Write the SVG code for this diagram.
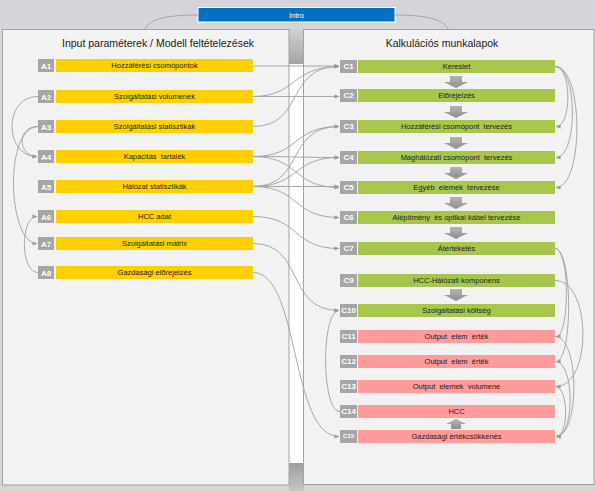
<svg xmlns="http://www.w3.org/2000/svg" width="596" height="491" viewBox="0 0 596 491">
<defs>
<style>
.panel{fill:#f2f2f2;stroke:#a3a3a3;stroke-width:1}
.title{font-family:"Liberation Sans",Arial,sans-serif;font-size:10.5px;fill:#1a1a1a;text-anchor:middle}
.lbl{fill:#a6a6a6}
.lt{font-family:"Liberation Sans",Arial,sans-serif;font-size:8px;font-weight:bold;fill:#ffffff;text-anchor:middle}
.bt{font-family:"Liberation Sans",Arial,sans-serif;font-size:7.5px;fill:#222222;text-anchor:middle;white-space:pre}
.ya{fill:#ffd000}
.gr{fill:#a8c64c}
.pk{fill:#ff9b9b}
.con{fill:none;stroke:#a0a0a0;stroke-width:0.9;marker-end:url(#ah)}
.con0{fill:none;stroke:#a0a0a0;stroke-width:0.9}
.blk{fill:url(#ag)}
</style>
<marker id="ah" viewBox="0 0 6 6" refX="5.5" refY="3" markerWidth="5" markerHeight="5" orient="auto" markerUnits="userSpaceOnUse">
<path d="M0,0.5 L6,3 L0,5.5 z" fill="#9c9c9c"/>
</marker>
<linearGradient id="ag" x1="0" y1="0" x2="0" y2="1">
<stop offset="0" stop-color="#b4b4b4"/>
<stop offset="1" stop-color="#8e8e8e"/>
</linearGradient>
<linearGradient id="topg" x1="0" y1="0" x2="0" y2="1">
<stop offset="0" stop-color="#cfd1d4"/>
<stop offset="1" stop-color="#a4a4a4"/>
</linearGradient>
<linearGradient id="botg" x1="0" y1="0" x2="0" y2="1">
<stop offset="0" stop-color="#9e9e9e"/>
<stop offset="1" stop-color="#c6c6c6"/>
</linearGradient>
<path id="dn" d="M-6,0 H6 V6 H12 L0,12 L-12,6 H-6 Z"/>
</defs>

<g id="background">
<rect x="0" y="0" width="596" height="491" fill="#d3d5d8"/>
<rect x="289" y="29" width="15" height="35" fill="url(#topg)"/>
<rect x="289" y="64" width="15" height="399" fill="#ffffff"/>
<rect x="289" y="463" width="15" height="28" fill="url(#botg)"/>
</g>

<g id="panel-input">
<rect class="panel" x="2.5" y="29.5" width="286.5" height="455.5"/>
<text class="title" x="158" y="47">Input paraméterek / Modell feltételezések</text>
</g>
<g id="panel-calc">
<rect class="panel" x="303.5" y="29.5" width="290.5" height="455"/>
<text class="title" x="442" y="47">Kalkulációs munkalapok</text>
</g>

<g id="intro">
<rect x="198" y="7.5" width="197" height="14.5" fill="#0070c0" stroke="#ffffff" stroke-width="1"/>
<text class="bt" x="296.5" y="17.5" style="fill:#ffffff">Intro</text>
</g>

<g id="A1"><rect class="lbl" x="38" y="59" width="16" height="13"/><text class="lt" x="46" y="68.5">A1</text><rect class="ya" x="56" y="59" width="197" height="13"/><text class="bt" x="154.5" y="68">Hozzáférési csomópontok</text></g>
<g id="A2"><rect class="lbl" x="38" y="90" width="16" height="13"/><text class="lt" x="46" y="99.5">A2</text><rect class="ya" x="56" y="90" width="197" height="13"/><text class="bt" x="154.5" y="99">Szolgáltatási volumenek</text></g>
<g id="A3"><rect class="lbl" x="38" y="120" width="16" height="13"/><text class="lt" x="46" y="129.5">A3</text><rect class="ya" x="56" y="120" width="197" height="13"/><text class="bt" x="154.5" y="129">Szolgáltatási statisztikák</text></g>
<g id="A4"><rect class="lbl" x="38" y="150" width="16" height="13"/><text class="lt" x="46" y="159.5">A4</text><rect class="ya" x="56" y="150" width="197" height="13"/><text class="bt" x="154.5" y="159">Kapacitás  tartalék</text></g>
<g id="A5"><rect class="lbl" x="38" y="180" width="16" height="13"/><text class="lt" x="46" y="189.5">A5</text><rect class="ya" x="56" y="180" width="197" height="13"/><text class="bt" x="154.5" y="189">Hálózat statisztikák</text></g>
<g id="A6"><rect class="lbl" x="38" y="210" width="16" height="13"/><text class="lt" x="46" y="219.5">A6</text><rect class="ya" x="56" y="210" width="197" height="13"/><text class="bt" x="154.5" y="219">HCC adat</text></g>
<g id="A7"><rect class="lbl" x="38" y="237" width="16" height="13"/><text class="lt" x="46" y="246.5">A7</text><rect class="ya" x="56" y="237" width="197" height="13"/><text class="bt" x="154.5" y="246">Szolgáltatási mátrix</text></g>
<g id="A8"><rect class="lbl" x="38" y="266" width="16" height="13"/><text class="lt" x="46" y="275.5">A8</text><rect class="ya" x="56" y="266" width="197" height="13"/><text class="bt" x="154.5" y="275">Gazdasági előrejelzés</text></g>

<g id="C1"><rect class="lbl" x="340" y="60" width="17" height="13"/><text class="lt" x="348.5" y="69">C1</text><rect class="gr" x="358" y="60" width="197" height="13"/><text class="bt" x="456.5" y="69">Kereslet</text></g>
<g id="C2"><rect class="lbl" x="340" y="89" width="17" height="13"/><text class="lt" x="348.5" y="98">C2</text><rect class="gr" x="358" y="89" width="197" height="13"/><text class="bt" x="456.5" y="98">Előrejelzés</text></g>
<g id="C3"><rect class="lbl" x="340" y="120" width="17" height="13"/><text class="lt" x="348.5" y="129">C3</text><rect class="gr" x="358" y="120" width="197" height="13"/><text class="bt" x="456.5" y="129">Hozzáférési csomópont  tervezés</text></g>
<g id="C4"><rect class="lbl" x="340" y="151" width="17" height="13"/><text class="lt" x="348.5" y="160">C4</text><rect class="gr" x="358" y="151" width="197" height="13"/><text class="bt" x="456.5" y="160">Maghálózati csomópont  tervezés</text></g>
<g id="C5"><rect class="lbl" x="340" y="181" width="17" height="13"/><text class="lt" x="348.5" y="190">C5</text><rect class="gr" x="358" y="181" width="197" height="13"/><text class="bt" x="456.5" y="190">Egyéb  elemek  tervezése</text></g>
<g id="C6"><rect class="lbl" x="340" y="211" width="17" height="13"/><text class="lt" x="348.5" y="220">C6</text><rect class="gr" x="358" y="211" width="197" height="13"/><text class="bt" x="456.5" y="220">Alépítmény  és optikai kábel tervezése</text></g>
<g id="C7"><rect class="lbl" x="340" y="242" width="17" height="13"/><text class="lt" x="348.5" y="251">C7</text><rect class="gr" x="358" y="242" width="197" height="13"/><text class="bt" x="456.5" y="251">Átértékelés</text></g>
<g id="C9"><rect class="lbl" x="340" y="274" width="17" height="13"/><text class="lt" x="348.5" y="283">C9</text><rect class="gr" x="358" y="274" width="197" height="13"/><text class="bt" x="456.5" y="283">HCC-Hálózati komponens</text></g>
<g id="C10"><rect class="lbl" x="340" y="304" width="17" height="13"/><text class="lt" x="348.5" y="313">C10</text><rect class="gr" x="358" y="304" width="197" height="13"/><text class="bt" x="456.5" y="313">Szolgáltatási költség</text></g>
<g id="C11"><rect class="lbl" x="340" y="330" width="17" height="13"/><text class="lt" x="348.5" y="339">C11</text><rect class="pk" x="358" y="330" width="197" height="13"/><text class="bt" x="456.5" y="339">Output  elem  érték</text></g>
<g id="C12"><rect class="lbl" x="340" y="355" width="17" height="13"/><text class="lt" x="348.5" y="364">C12</text><rect class="pk" x="358" y="355" width="197" height="13"/><text class="bt" x="456.5" y="364">Output  elem  érték</text></g>
<g id="C13"><rect class="lbl" x="340" y="380" width="17" height="13"/><text class="lt" x="348.5" y="389">C13</text><rect class="pk" x="358" y="380" width="197" height="13"/><text class="bt" x="456.5" y="389">Output  elemek  volumene</text></g>
<g id="C14"><rect class="lbl" x="340" y="405" width="17" height="13"/><text class="lt" x="348.5" y="414">C14</text><rect class="pk" x="358" y="405" width="197" height="13"/><text class="bt" x="456.5" y="414">HCC</text></g>
<g id="C15"><rect class="lbl" x="340" y="430" width="17" height="13"/><text class="lt" x="348.5" y="438" style="font-size:6px">C15</text><rect class="pk" x="358" y="430" width="197" height="13"/><text class="bt" x="456.5" y="439">Gazdasági értékcsökkenés</text></g>

<g id="flow-arrows">
<use href="#dn" class="blk" x="456" y="76"/>
<use href="#dn" class="blk" x="456" y="106"/>
<use href="#dn" class="blk" x="456" y="137"/>
<use href="#dn" class="blk" x="456" y="167"/>
<use href="#dn" class="blk" x="456" y="197"/>
<use href="#dn" class="blk" x="456" y="227"/>
<use href="#dn" class="blk" x="456" y="289"/>
<path class="blk" d="M451,429 H461 V424 H466 L456,419 L446,424 H451 Z"/>
</g>

<g id="connectors">
<path class="con0" d="M198,15 C170,15 150,18 145,29"/>
<path class="con0" d="M395,15 C422,15 443,18 448,29"/>

<path class="con" d="M253,66 H339"/>
<path class="con" d="M253,96.5 H339"/>
<path class="con" d="M253,96.5 C296,96.5 292,66.5 339,66.5"/>
<path class="con" d="M253,126.5 C305,126.5 285,66.5 339,66.5"/>
<path class="con" d="M253,156.5 C300,156.5 292,126.5 339,126.5"/>
<path class="con" d="M253,156.5 C300,156.5 300,157.5 339,157.5"/>
<path class="con" d="M253,156.5 C300,156.5 292,187.5 339,187.5"/>
<path class="con" d="M253,186.5 C305,186.5 285,126.5 339,126.5"/>
<path class="con" d="M253,186.5 C300,186.5 292,157.5 339,157.5"/>
<path class="con" d="M253,186.5 H339"/>
<path class="con" d="M253,186.5 C300,186.5 292,217.5 339,217.5"/>
<path class="con" d="M253,216.5 C300,216.5 292,248.5 339,248.5"/>
<path class="con" d="M253,243.5 C305,243.5 285,310.5 339,310.5"/>
<path class="con" d="M253,272.5 C300,272.5 290,436.5 339,436.5"/>
<path class="con" d="M340,411.5 C321,411.5 321,310.5 339,310.5"/>

<path class="con" d="M38,96.5 C3,96.5 4,156.5 37,156.5"/>
<path class="con" d="M38,126.5 C16,126.5 18,156.5 37,156.5"/>
<path class="con" d="M38,126.5 C3,128 8,243.5 37,243.5"/>
<path class="con" d="M38,272.5 C20,272.5 20,216.5 37,216.5"/>

<path class="con" d="M555,66.5 C572,66.5 572,126.5 556,126.5"/>
<path class="con" d="M555,66.5 C578,66.5 578,157.5 556,157.5"/>
<path class="con" d="M555,66.5 C584,66.5 584,187.5 556,187.5"/>

<path class="con" d="M555,248.5 C570,248.5 570,336.5 556,336.5"/>
<path class="con" d="M555,248.5 C573,248.5 573,361.5 556,361.5"/>
<path class="con" d="M555,280.5 C592,280.5 592,386.5 556,386.5"/>
<path class="con" d="M555,336.5 C580,336.5 580,436.5 556,436.5"/>
<path class="con" d="M555,361.5 C575,361.5 575,436.5 556,436.5"/>
<path class="con" d="M555,386.5 C569,386.5 569,436.5 556,436.5"/>
</g>
</svg>
